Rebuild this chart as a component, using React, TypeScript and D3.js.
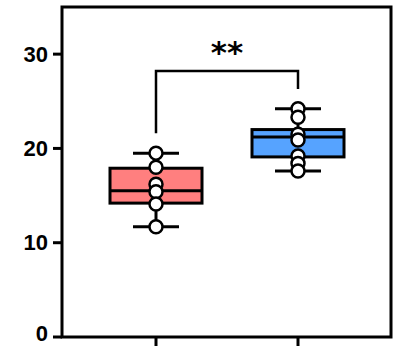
import React from "react";
import * as d3 from "d3";

// data
const groups = ["A", "B"];
const colors = ["#ff7f7f", "#56a3ff"];
const pointsA = [19.5, 18.0, 16.2, 15.4, 14.1, 11.7];
const pointsB = [24.2, 23.3, 21.5, 20.9, 19.2, 18.4, 17.6];
const boxQ1 = [14.2, 19.1];
const boxMedian = [15.5, 21.2];
const boxQ3 = [17.9, 22.0];
const yTicks = [0, 10, 20, 30];
const bracket = { left: 21.6, top: 28.2, right: 26.3, label: "**" };

const W = 397,
  H = 346;
const margin = { top: 7, right: 6, bottom: 9, left: 62 };

export default function App() {
  const y = d3
    .scaleLinear()
    .domain([0, 35])
    .range([H - margin.bottom, margin.top]);
  const x = d3
    .scalePoint()
    .domain(groups)
    .range([156, 298]);

  const allPoints = [pointsA, pointsB];
  const boxW = 92;
  const capW = 46;
  const x0 = margin.left;
  const x1 = W - margin.right;
  const y0 = y(0);

  return (
    <svg
      width={W}
      height={H}
      style={{ position: "absolute", left: 0, top: 0 }}
      fontFamily="Liberation Sans, Arial, sans-serif"
    >
      {/* frame */}
      <rect
        x={x0}
        y={margin.top}
        width={x1 - x0}
        height={y0 - margin.top}
        fill="none"
        stroke="#000"
        strokeWidth={3}
      />
      {/* y ticks */}
      {yTicks.map((t) => (
        <g key={t}>
          <line x1={x0 - 9} x2={x0} y1={y(t)} y2={y(t)} stroke="#000" strokeWidth={3} />
          <text
            x={x0 - 14}
            y={Math.min(y(t), H - 13)}
            textAnchor="end"
            dominantBaseline="central"
            fontSize={22}
            fontWeight="bold"
          >
            {t}
          </text>
        </g>
      ))}
      {/* x ticks */}
      {groups.map((g) => (
        <line key={g} x1={x(g)} x2={x(g)} y1={y0} y2={H} stroke="#000" strokeWidth={3} />
      ))}

      {/* bracket */}
      <path
        d={`M${x("A")},${y(bracket.left)}V${y(bracket.top)}H${x("B")}V${y(bracket.right)}`}
        fill="none"
        stroke="#000"
        strokeWidth={2.5}
      />
      <text
        x={((x("A") as number) + (x("B") as number)) / 2}
        y={y(bracket.top) - 8}
        textAnchor="middle"
        fontSize={31}
        fontWeight="bold"
        fontFamily="DejaVu Sans"
      >
        {bracket.label}
      </text>

      {/* boxes */}
      {groups.map((g, i) => {
        const cx = x(g) as number;
        const pts = allPoints[i];
        const lo = d3.min(pts) as number;
        const hi = d3.max(pts) as number;
        return (
          <g key={g}>
            <line x1={cx} x2={cx} y1={y(hi)} y2={y(lo)} stroke="#000" strokeWidth={3} />
            <line x1={cx - capW / 2} x2={cx + capW / 2} y1={y(hi)} y2={y(hi)} stroke="#000" strokeWidth={3} />
            <line x1={cx - capW / 2} x2={cx + capW / 2} y1={y(lo)} y2={y(lo)} stroke="#000" strokeWidth={3} />
            <rect
              x={cx - boxW / 2}
              y={y(boxQ3[i])}
              width={boxW}
              height={y(boxQ1[i]) - y(boxQ3[i])}
              fill={colors[i]}
              stroke="#000"
              strokeWidth={3}
            />
            <line
              x1={cx - boxW / 2}
              x2={cx + boxW / 2}
              y1={y(boxMedian[i])}
              y2={y(boxMedian[i])}
              stroke="#000"
              strokeWidth={3}
            />
            {pts.map((p, j) => (
              <circle key={j} cx={cx} cy={y(p)} r={6.5} fill="#fff" stroke="#000" strokeWidth={2.5} />
            ))}
          </g>
        );
      })}
    </svg>
  );
}
